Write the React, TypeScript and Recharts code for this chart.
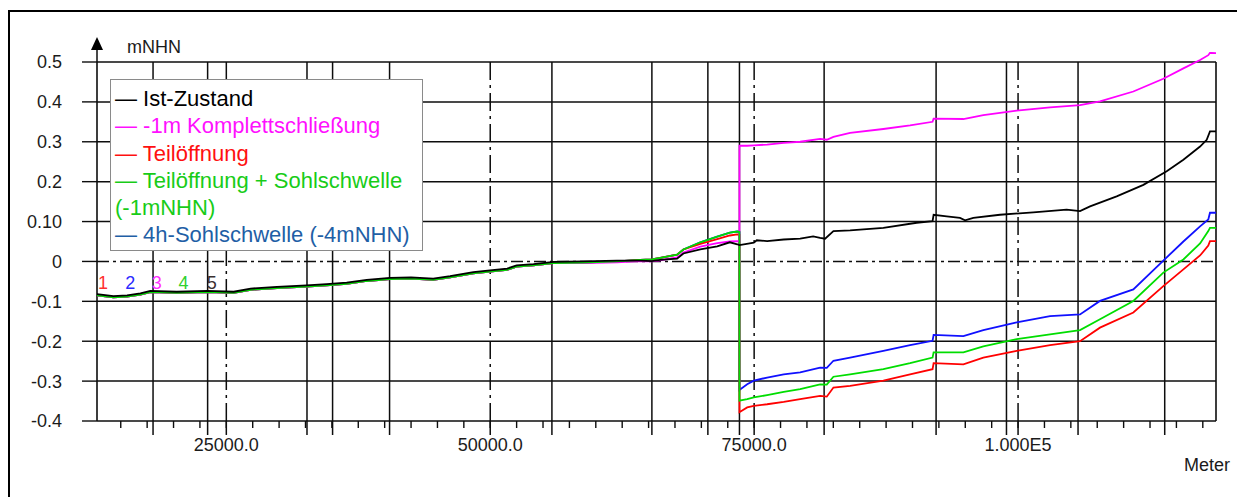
import React from 'react'
import {
  LineChart, Line, XAxis, YAxis, ReferenceLine, ReferenceDot, Legend,
} from 'recharts'

// Water level along the river (mNHN) against distance (Meter)
const X_DOMAIN: [number, number] = [12750, 118750]

const X_TICKS = [
  15000, 17500, 20000, 22500, 25000, 27500, 30000, 32500, 35000, 37500,
  40000, 42500, 45000, 47500, 50000, 52500, 55000, 57500, 60000, 62500,
  65000, 67500, 70000, 72500, 75000, 77500, 80000, 82500, 85000, 87500,
  90000, 92500, 95000, 97500, 100000, 102500, 105000, 107500, 110000,
  112500, 115000, 117500,
]
const X_LABEL_VALUES = [25000, 50000, 75000, 100000]
const X_LABEL_TEXT = ['25000.0', '50000.0', '75000.0', '1.000E5']

const Y_TICKS = [-0.4, -0.3, -0.2, -0.1, 0, 0.1, 0.2, 0.3, 0.4, 0.5]
const Y_TICK_TEXT = ['-0.4', '-0.3', '-0.2', '-0.1', '0', '0.10', '0.2', '0.3', '0.4', '0.5']
const GRID_Y = [-0.3, -0.2, -0.1, 0.1, 0.2, 0.3, 0.4]

// cross-section positions (solid verticals)
const SECTION_X = [
  18059, 23229, 32642, 35066, 40464, 55843, 65313, 70616, 73608,
  81629, 92235, 98902, 105682, 113892,
]

// west of the weir (km ~73.6) all variants run close together
const X_WEST = [
  12750, 14300, 15600, 16860, 17800, 20300, 23200, 25700, 27300, 29800,
  32600, 34500, 36400, 38300, 40500, 42500, 44600, 46200, 48400, 50200,
  51600, 52500, 54100, 56000, 58800, 62000, 64200, 65300, 66100, 67700,
  68300, 69900, 71500, 72700, 73400, 73608,
]
const BLACK_WEST = [
  -0.082, -0.087, -0.085, -0.080, -0.074, -0.076, -0.074, -0.076, -0.068, -0.064,
  -0.060, -0.057, -0.053, -0.046, -0.041, -0.040, -0.043, -0.037, -0.027, -0.022,
  -0.018, -0.010, -0.007, -0.001, 0.000, 0.002, 0.002, 0.001, 0.004, 0.007,
  0.020, 0.030, 0.038, 0.048, 0.043, 0.041,
]
const GREEN_WEST = [
  -0.085, -0.090, -0.088, -0.083, -0.077, -0.079, -0.077, -0.079, -0.071, -0.067,
  -0.063, -0.060, -0.056, -0.049, -0.044, -0.043, -0.046, -0.040, -0.030, -0.025,
  -0.021, -0.013, -0.010, -0.004, -0.003, 0.000, 0.004, 0.005, 0.009, 0.017,
  0.030, 0.048, 0.062, 0.072, 0.075, 0.074,
]
const BLUE_WEST = [
  -0.085, -0.090, -0.088, -0.083, -0.077, -0.079, -0.077, -0.079, -0.071, -0.067,
  -0.063, -0.060, -0.056, -0.049, -0.044, -0.043, -0.046, -0.040, -0.030, -0.025,
  -0.021, -0.013, -0.010, -0.004, -0.003, 0.000, 0.004, 0.005, 0.009, 0.017,
  0.030, 0.048, 0.062, 0.072, 0.075, 0.074,
]
const RED_WEST = [
  -0.085, -0.090, -0.088, -0.083, -0.077, -0.079, -0.077, -0.079, -0.071, -0.067,
  -0.063, -0.060, -0.056, -0.049, -0.044, -0.043, -0.046, -0.040, -0.030, -0.025,
  -0.021, -0.013, -0.010, -0.004, -0.003, 0.000, 0.004, 0.005, 0.009, 0.017,
  0.030, 0.044, 0.056, 0.065, 0.068, 0.067,
]
const MAGENTA_WEST = [
  -0.085, -0.090, -0.088, -0.083, -0.077, -0.079, -0.077, -0.079, -0.071, -0.067,
  -0.063, -0.060, -0.056, -0.049, -0.044, -0.043, -0.046, -0.040, -0.030, -0.025,
  -0.021, -0.013, -0.010, -0.004, -0.004, -0.002, 0.001, 0.000, 0.003, 0.010,
  0.022, 0.037, 0.046, 0.050, 0.051, 0.050,
]

// east of the weir, first point is the jump
const X_EAST = [
  73608, 74340, 74970, 76230, 77800, 79360, 81250, 81880, 82510, 84090,
  87240, 89770, 91900, 92000, 94820, 96710, 99870, 103030, 105870, 107760,
  110920, 113760, 115660, 117240, 118020, 118180, 118750,
]
const MAGENTA_EAST = [
  0.290, 0.290, 0.291, 0.293, 0.297, 0.300, 0.307, 0.305, 0.312, 0.322,
  0.332, 0.341, 0.350, 0.358, 0.357, 0.367, 0.378, 0.386, 0.392, 0.401,
  0.426, 0.458, 0.484, 0.505, 0.517, 0.523, 0.522,
]
const BLUE_EAST = [
  -0.322, -0.308, -0.299, -0.291, -0.283, -0.278, -0.266, -0.267, -0.249, -0.241,
  -0.224, -0.210, -0.199, -0.184, -0.187, -0.172, -0.153, -0.137, -0.133, -0.099,
  -0.070, 0.002, 0.050, 0.088, 0.105, 0.122, 0.122,
]
const GREEN_EAST = [
  -0.349, -0.345, -0.341, -0.335, -0.327, -0.320, -0.308, -0.309, -0.289, -0.283,
  -0.270, -0.255, -0.241, -0.228, -0.228, -0.213, -0.195, -0.183, -0.172, -0.145,
  -0.099, -0.028, 0.005, 0.045, 0.076, 0.084, 0.084,
]
const RED_EAST = [
  -0.378, -0.366, -0.362, -0.358, -0.352, -0.345, -0.337, -0.339, -0.316, -0.312,
  -0.299, -0.283, -0.270, -0.255, -0.258, -0.241, -0.224, -0.210, -0.200, -0.166,
  -0.128, -0.062, -0.020, 0.015, 0.040, 0.051, 0.051,
]

// Ist-Zustand has no jump at the weir
const X_BLACK_EAST = [
  74300, 74970, 75250, 76230, 77800, 79360, 80590, 81250, 81720, 82510,
  84090, 87240, 90400, 91900, 92000, 93240, 94500, 94980, 95760, 98290,
  101440, 104600, 105870, 106820, 109340, 111870, 114080, 115660, 117240, 117870,
  118180, 118750,
]
const BLACK_EAST = [
  0.044, 0.047, 0.053, 0.051, 0.055, 0.057, 0.063, 0.059, 0.057, 0.076,
  0.078, 0.084, 0.097, 0.101, 0.117, 0.113, 0.109, 0.103, 0.109, 0.117,
  0.123, 0.130, 0.126, 0.138, 0.163, 0.192, 0.226, 0.255, 0.288, 0.305,
  0.326, 0.326,
]

// small gauge numbers near the left edge
const MARK_TEXT = ['1', '2', '3', '4', '5']
const MARK_X = [13330, 15890, 18420, 20940, 23630]
const MARK_Y = -0.0525
const MARK_COLORS = ['#ff3030', '#2a2aff', '#ff30ff', '#30d030', '#3a3030']

const SERIES_NAMES = [
  'Ist-Zustand',
  '-1m Komplettschließung',
  'Teilöffnung',
  'Teilöffnung + Sohlschwelle (-1mNHN)',
  '4h-Sohlschwelle (-4mNHN)',
]
const LINE_COLORS = ['#000000', '#ff00ff', '#ff0000', '#00dd00', '#1010ff']
const LEGEND_COLORS = ['#000000', '#ff10ff', '#ff1010', '#18cc18', '#1f5fa6']

const FONT = '"Liberation Sans", Arial, Helvetica, sans-serif'
const TEXT = '#1b1b1b'
const GRID = '#0d0d0d'
const W = 1229
const H = 485

const pts = (xs: number[], ys: number[]) => xs.map((x, i) => ({ x, y: ys[i] }))

const SERIES_DATA = [
  [...pts(X_WEST, BLACK_WEST), ...pts(X_BLACK_EAST, BLACK_EAST)],
  [...pts(X_WEST, MAGENTA_WEST), ...pts(X_EAST, MAGENTA_EAST)],
  [...pts(X_WEST, RED_WEST), ...pts(X_EAST, RED_EAST)],
  [...pts(X_WEST, GREEN_WEST), ...pts(X_EAST, GREEN_EAST)],
  [...pts(X_WEST, BLUE_WEST), ...pts(X_EAST, BLUE_EAST)],
]
// painter's order: blue at the bottom, Ist-Zustand on top
const DRAW_ORDER = [4, 2, 1, 3, 0]

const fmtX = (v: number) => {
  const i = X_LABEL_VALUES.indexOf(v)
  return i >= 0 ? X_LABEL_TEXT[i] : ''
}
const fmtY = (v: number) => {
  const i = Y_TICKS.findIndex((t) => Math.abs(t - v) < 1e-9)
  return i >= 0 ? Y_TICK_TEXT[i] : ''
}

// arrow on top of the value axis plus the unit
function AxisArrow(props: any) {
  const vb = props.viewBox || {}
  const ax = vb.x + vb.width
  const top = vb.y
  return (
    <g>
      <line x1={ax} y1={top} x2={ax} y2={top - 14} stroke={GRID} strokeWidth={1.5} />
      <path d={`M${ax} ${top - 25} L${ax - 6} ${top - 12} L${ax + 6} ${top - 12} Z`} fill="#000" />
      <text x={ax + 30} y={top - 9} fontSize={18} fill={TEXT}>mNHN</text>
    </g>
  )
}

function LegendBox() {
  return (
    <div
      style={{
        width: 313,
        boxSizing: 'border-box',
        border: '1px solid #8a8a8a',
        background: '#fff',
        padding: '5px 2px 1px 4px',
        fontSize: 22,
        lineHeight: '27.3px',
        textAlign: 'left',
        fontFamily: FONT,
      }}
    >
      {SERIES_NAMES.map((name, i) => (
        <div key={name} style={{ color: LEGEND_COLORS[i] }}>
          {'\u2014 ' + name}
        </div>
      ))}
    </div>
  )
}

const axisStroke = { stroke: GRID, strokeWidth: 1.6 }
const tickStroke = { stroke: GRID, strokeWidth: 1.4 }
const tickText = { fontSize: 18, fill: TEXT }
const GW = 1.5

export default function App() {
  return (
    <div
      style={{
        position: 'relative',
        top: 2,
        width: 1233,
        height: 489,
        border: '2px solid #000',
        boxSizing: 'border-box',
        fontFamily: FONT,
        background: '#fff',
      }}
    >
      {/* frame: axes, grid, section lines */}
      <div style={{ position: 'absolute', left: 0, top: 0 }}>
        <LineChart width={W} height={H} margin={{ top: 20, right: 23, bottom: 40, left: 27 }}>
          <XAxis
            xAxisId="top"
            orientation="top"
            type="number"
            dataKey="x"
            domain={X_DOMAIN}
            allowDataOverflow
            ticks={X_TICKS}
            interval={0}
            tick={false}
            tickSize={-7}
            height={30}
            axisLine={axisStroke}
            tickLine={tickStroke}
          />
          <XAxis
            type="number"
            dataKey="x"
            domain={X_DOMAIN}
            allowDataOverflow
            ticks={X_TICKS}
            interval={0}
            tickSize={7}
            tickMargin={10}
            height={36}
            tickFormatter={fmtX}
            tick={tickText}
            axisLine={axisStroke}
            tickLine={tickStroke}
            label={{ value: 'Meter', position: 'insideBottomRight', offset: -14, fontSize: 18, fill: TEXT }}
          />
          <YAxis
            type="number"
            domain={[-0.4, 0.5]}
            allowDataOverflow
            ticks={Y_TICKS}
            interval={0}
            tickSize={15}
            tickMargin={20}
            width={60}
            tickFormatter={fmtY}
            tick={tickText}
            axisLine={axisStroke}
            tickLine={tickStroke}
            label={AxisArrow}
          />
          {GRID_Y.map((v) => (
            <ReferenceLine key={'gy' + v} y={v} stroke={GRID} strokeWidth={GW} />
          ))}
          <ReferenceLine y={0} stroke={GRID} strokeWidth={GW} strokeDasharray="12 4 3 4" />
          {X_LABEL_VALUES.map((v) => (
            <ReferenceLine key={'mx' + v} x={v} stroke={GRID} strokeWidth={GW} strokeDasharray="18 5 3 5" />
          ))}
          {X_LABEL_VALUES.map((v) => (
            <ReferenceLine
              key={'mt' + v}
              segment={[{ x: v, y: -0.435 }, { x: v, y: -0.4 }]}
              ifOverflow="visible"
              stroke={GRID}
              strokeWidth={GW}
            />
          ))}
          {SECTION_X.map((v) => (
            <ReferenceLine
              key={'sx' + v}
              segment={[{ x: v, y: -0.435 }, { x: v, y: 0.5 }]}
              ifOverflow="visible"
              stroke={GRID}
              strokeWidth={GW}
            />
          ))}
          <ReferenceLine x={X_DOMAIN[1]} stroke={GRID} strokeWidth={1.6} />
          {MARK_TEXT.map((t, i) => (
            <ReferenceDot
              key={'m' + t}
              x={MARK_X[i]}
              y={MARK_Y}
              r={0}
              fill="none"
              stroke="none"
              ifOverflow="visible"
              label={{ value: t, position: 'center', fill: MARK_COLORS[i], fontSize: 18 }}
            />
          ))}
        </LineChart>
      </div>

      {/* series, drawn without clipping at the 0.5 line */}
      <div style={{ position: 'absolute', left: 0, top: 0 }}>
        <LineChart width={W} height={H} margin={{ top: 40, right: 23, bottom: 76, left: 87 }}>
          <XAxis type="number" dataKey="x" domain={X_DOMAIN} allowDataOverflow hide />
          <YAxis type="number" domain={[-0.4, 0.525]} allowDataOverflow hide />
          <Legend
            layout="vertical"
            align="center"
            verticalAlign="middle"
            wrapperStyle={{ left: 100, top: 67, width: 313 }}
            content={LegendBox}
          />
          {DRAW_ORDER.map((k) => (
            <Line
              key={SERIES_NAMES[k]}
              data={SERIES_DATA[k]}
              dataKey="y"
              name={SERIES_NAMES[k]}
              type="linear"
              stroke={LINE_COLORS[k]}
              strokeWidth={1.8}
              dot={false}
              activeDot={false}
              isAnimationActive={false}
            />
          ))}
        </LineChart>
      </div>
    </div>
  )
}
